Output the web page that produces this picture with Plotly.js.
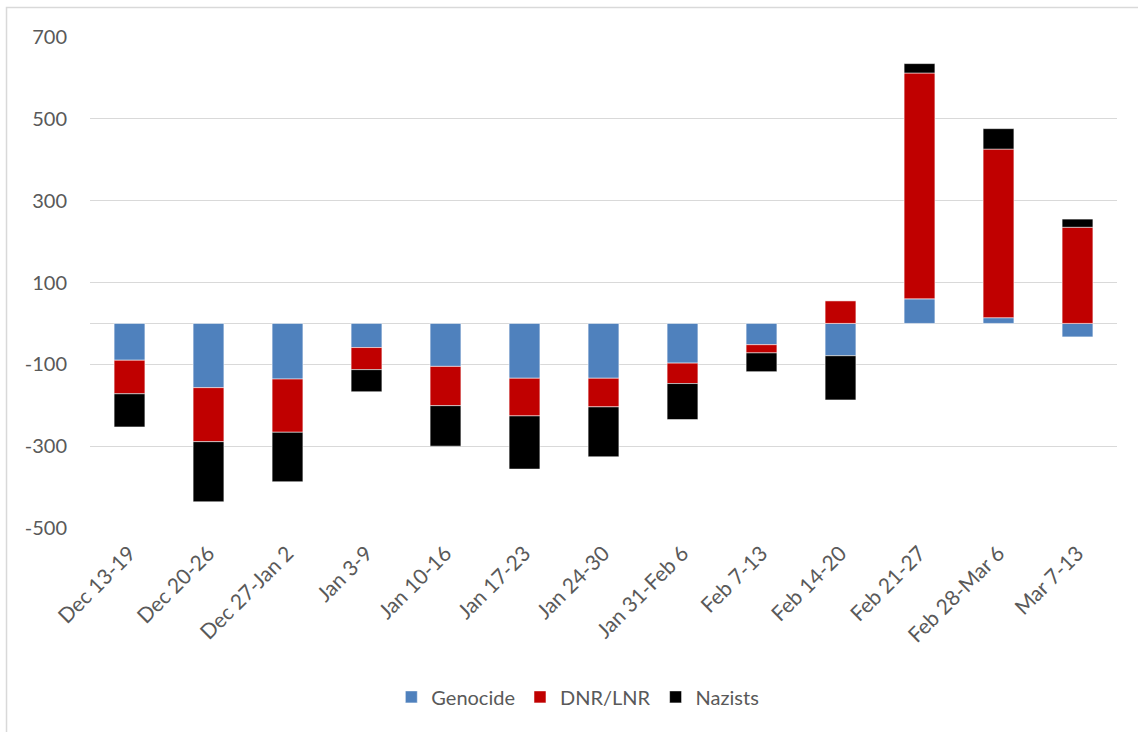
<!DOCTYPE html>
<html>
<head>
<meta charset="utf-8">
<script src="https://cdn.plot.ly/plotly-3.0.1.min.js"></script>
<style>
  html, body { margin: 0; padding: 0; background: #ffffff; }
  #chart { width: 1138px; height: 732px; }
</style>
</head>
<body>
<div id="chart"></div>
<script>
const categories = ["Dec 13-19", "Dec 20-26", "Dec 27-Jan 2", "Jan 3-9", "Jan 10-16", "Jan 17-23", "Jan 24-30", "Jan 31-Feb 6", "Feb 7-13", "Feb 14-20", "Feb 21-27", "Feb 28-Mar 6", "Mar 7-13"];
const genocide = [-90, -157, -136, -59, -105, -134, -134, -97, -52, -79, 60, 14, -33];
const dnrLnr   = [-82, -132, -130, -54, -96, -92, -70, -50, -20, 55, 552, 412, 235];
const nazists  = [-81, -147, -121, -54, -99, -130, -122, -88, -46, -108, 23, 50, 20];
const yTicks = [-500, -300, -100, 100, 300, 500, 700];
const yTickLabels = ["-500", "-300", "-100", "100", "300", "500", "700"];

const edge = {color: 'rgba(255,255,255,0.7)', width: 0.75};
const traces = [
  {type: 'bar', name: 'Genocide', x: categories, y: genocide, marker: {color: '#4F81BD', line: edge}},
  {type: 'bar', name: 'DNR/LNR', x: categories, y: dnrLnr, marker: {color: '#C00000', line: edge}},
  {type: 'bar', name: 'Nazists', x: categories, y: nazists, marker: {color: '#000000', line: edge}}
];

const layout = {
  width: 1138, height: 732,
  paper_bgcolor: '#ffffff', plot_bgcolor: '#ffffff',
  margin: {l: 90, r: 21, t: 37, b: 204},
  barmode: 'relative',
  bargap: 0.61,
  font: {family: 'Lato, "Open Sans", sans-serif', size: 20, color: '#595959'},
  showlegend: true,
  legend: {orientation: 'h', x: 0.475, xanchor: 'center', y: -0.344, yanchor: 'middle',
           traceorder: 'normal', font: {size: 20, color: '#595959'}, itemclick: false},
  xaxis: {type: 'category', tickangle: -45, showgrid: false, showline: false, zeroline: false,
          ticks: '', tickfont: {size: 21, color: '#595959'}, automargin: false, ticklabelstandoff: 8},
  yaxis: {range: [-500, 700], tickvals: yTicks, ticktext: yTickLabels, showgrid: true, gridcolor: '#d9d9d9', gridwidth: 1.3,
          zeroline: true, zerolinecolor: '#d9d9d9', zerolinewidth: 1.5, showline: false, ticks: '',
          tickfont: {size: 20, color: '#595959'}, automargin: false, ticklabelstandoff: 22},
  shapes: [
    {type: 'rect', xref: 'paper', yref: 'paper', x0: -0.0813, x1: 1.1, y0: -0.5, y1: 1.0601,
     line: {color: '#d9d9d9', width: 1.5}, fillcolor: 'rgba(0,0,0,0)', layer: 'below'}
  ]
};

Plotly.newPlot('chart', traces, layout, {displayModeBar: false, staticPlot: true});
</script>
</body>
</html>
